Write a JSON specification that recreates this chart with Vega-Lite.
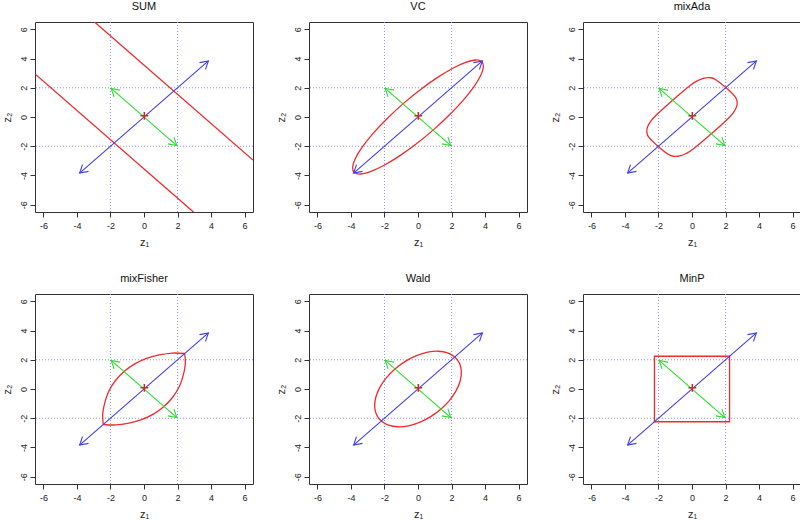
{
  "$schema": "https://vega.github.io/schema/vega-lite/v6.json",
  "padding": {"left": 0, "top": 0, "right": 0, "bottom": 0},
  "background": "white",
  "columns": 3,
  "spacing": {"row": 82, "column": 56},
  "bounds": "flush",
  "config": {
    "view": {"stroke": "#333333", "strokeWidth": 1},
    "axis": {"grid": false, "domain": false, "tickSize": 5, "tickColor": "#333333", "labelOverlap": false, "tickCount": 10, "labelFont": "Liberation Sans", "labelFontSize": 9, "labelColor": "#222222", "titleFont": "Liberation Sans", "titleFontSize": 11, "titleFontWeight": "normal", "titleColor": "#222222"},
    "axisX": {"labelPadding": 4, "titlePadding": 6},
    "axisY": {"labelAngle": -90, "labelAlign": "center", "labelBaseline": "bottom", "labelPadding": 2, "titlePadding": 7},
    "title": {"font": "Liberation Sans", "fontSize": 11, "fontWeight": "normal", "color": "#111111", "offset": 10}
  },
  "datasets": {
    "vgrid": [{"z1": -2}, {"z1": 2}],
    "hgrid": [{"z2": -2}, {"z2": 2}],
    "center": [{"z1": 0.02, "z2": 0.08}],
    "arrows": [
      {"vec": "major", "seg": "m0", "i": 0, "z1": -3.84, "z2": -3.84},
      {"vec": "major", "seg": "m0", "i": 1, "z1": 3.84, "z2": 3.84},
      {"vec": "major", "seg": "m1", "i": 0, "z1": 3.311, "z2": 3.721},
      {"vec": "major", "seg": "m1", "i": 1, "z1": 3.84, "z2": 3.84},
      {"vec": "major", "seg": "m1", "i": 2, "z1": 3.666, "z2": 3.257},
      {"vec": "major", "seg": "m2", "i": 0, "z1": -3.311, "z2": -3.721},
      {"vec": "major", "seg": "m2", "i": 1, "z1": -3.84, "z2": -3.84},
      {"vec": "major", "seg": "m2", "i": 2, "z1": -3.666, "z2": -3.257},
      {"vec": "minor", "seg": "n0", "i": 0, "z1": -1.96, "z2": 1.96},
      {"vec": "minor", "seg": "n0", "i": 1, "z1": 1.96, "z2": -1.96},
      {"vec": "minor", "seg": "n1", "i": 0, "z1": 1.786, "z2": -1.377},
      {"vec": "minor", "seg": "n1", "i": 1, "z1": 1.96, "z2": -1.96},
      {"vec": "minor", "seg": "n1", "i": 2, "z1": 1.431, "z2": -1.841},
      {"vec": "minor", "seg": "n2", "i": 0, "z1": -1.786, "z2": 1.377},
      {"vec": "minor", "seg": "n2", "i": 1, "z1": -1.96, "z2": 1.96},
      {"vec": "minor", "seg": "n2", "i": 2, "z1": -1.431, "z2": 1.841}
    ],
    "region": [
      {"panel": "SUM", "seg": "a", "i": 0, "z1": -2.95, "z2": 6.5},
      {"panel": "SUM", "seg": "a", "i": 1, "z1": 6.5, "z2": -2.95},
      {"panel": "SUM", "seg": "b", "i": 0, "z1": -6.5, "z2": 2.95},
      {"panel": "SUM", "seg": "b", "i": 1, "z1": 2.95, "z2": -6.5},

      {"panel": "VC", "seg": "a", "i": 0, "z1": 3.797, "z2": 3.797},
      {"panel": "VC", "seg": "a", "i": 1, "z1": 3.435, "z2": 3.9},
      {"panel": "VC", "seg": "a", "i": 2, "z1": 2.839, "z2": 3.737},
      {"panel": "VC", "seg": "a", "i": 3, "z1": 2.05, "z2": 3.32},
      {"panel": "VC", "seg": "a", "i": 4, "z1": 1.121, "z2": 2.676},
      {"panel": "VC", "seg": "a", "i": 5, "z1": 0.115, "z2": 1.85},
      {"panel": "VC", "seg": "a", "i": 6, "z1": -0.898, "z2": 0.898},
      {"panel": "VC", "seg": "a", "i": 7, "z1": -1.85, "z2": -0.115},
      {"panel": "VC", "seg": "a", "i": 8, "z1": -2.676, "z2": -1.121},
      {"panel": "VC", "seg": "a", "i": 9, "z1": -3.32, "z2": -2.05},
      {"panel": "VC", "seg": "a", "i": 10, "z1": -3.737, "z2": -2.839},
      {"panel": "VC", "seg": "a", "i": 11, "z1": -3.9, "z2": -3.435},
      {"panel": "VC", "seg": "a", "i": 12, "z1": -3.797, "z2": -3.797},
      {"panel": "VC", "seg": "a", "i": 13, "z1": -3.435, "z2": -3.9},
      {"panel": "VC", "seg": "a", "i": 14, "z1": -2.839, "z2": -3.737},
      {"panel": "VC", "seg": "a", "i": 15, "z1": -2.05, "z2": -3.32},
      {"panel": "VC", "seg": "a", "i": 16, "z1": -1.121, "z2": -2.676},
      {"panel": "VC", "seg": "a", "i": 17, "z1": -0.115, "z2": -1.85},
      {"panel": "VC", "seg": "a", "i": 18, "z1": 0.898, "z2": -0.898},
      {"panel": "VC", "seg": "a", "i": 19, "z1": 1.85, "z2": 0.115},
      {"panel": "VC", "seg": "a", "i": 20, "z1": 2.676, "z2": 1.121},
      {"panel": "VC", "seg": "a", "i": 21, "z1": 3.32, "z2": 2.05},
      {"panel": "VC", "seg": "a", "i": 22, "z1": 3.737, "z2": 2.839},
      {"panel": "VC", "seg": "a", "i": 23, "z1": 3.9, "z2": 3.435},

      {"panel": "mixAda", "seg": "a", "i": 0, "z1": 2.015, "z2": 2.015},
      {"panel": "mixAda", "seg": "a", "i": 1, "z1": 1.394, "z2": 2.567},
      {"panel": "mixAda", "seg": "a", "i": 2, "z1": 1.06, "z2": 2.69},
      {"panel": "mixAda", "seg": "a", "i": 3, "z1": 0.725, "z2": 2.664},
      {"panel": "mixAda", "seg": "a", "i": 4, "z1": 0.352, "z2": 2.497},
      {"panel": "mixAda", "seg": "a", "i": 5, "z1": -0.107, "z2": 2.158},
      {"panel": "mixAda", "seg": "a", "i": 6, "z1": -1.153, "z2": 1.153},
      {"panel": "mixAda", "seg": "a", "i": 7, "z1": -2.158, "z2": 0.107},
      {"panel": "mixAda", "seg": "a", "i": 8, "z1": -2.497, "z2": -0.352},
      {"panel": "mixAda", "seg": "a", "i": 9, "z1": -2.664, "z2": -0.725},
      {"panel": "mixAda", "seg": "a", "i": 10, "z1": -2.69, "z2": -1.06},
      {"panel": "mixAda", "seg": "a", "i": 11, "z1": -2.567, "z2": -1.394},
      {"panel": "mixAda", "seg": "a", "i": 12, "z1": -2.015, "z2": -2.015},
      {"panel": "mixAda", "seg": "a", "i": 13, "z1": -1.394, "z2": -2.567},
      {"panel": "mixAda", "seg": "a", "i": 14, "z1": -1.06, "z2": -2.69},
      {"panel": "mixAda", "seg": "a", "i": 15, "z1": -0.725, "z2": -2.664},
      {"panel": "mixAda", "seg": "a", "i": 16, "z1": -0.352, "z2": -2.497},
      {"panel": "mixAda", "seg": "a", "i": 17, "z1": 0.107, "z2": -2.158},
      {"panel": "mixAda", "seg": "a", "i": 18, "z1": 1.153, "z2": -1.153},
      {"panel": "mixAda", "seg": "a", "i": 19, "z1": 2.158, "z2": -0.107},
      {"panel": "mixAda", "seg": "a", "i": 20, "z1": 2.497, "z2": 0.352},
      {"panel": "mixAda", "seg": "a", "i": 21, "z1": 2.664, "z2": 0.725},
      {"panel": "mixAda", "seg": "a", "i": 22, "z1": 2.69, "z2": 1.06},
      {"panel": "mixAda", "seg": "a", "i": 23, "z1": 2.567, "z2": 1.394},

      {"panel": "mixFisher", "seg": "a", "i": 0, "z1": 2.43, "z2": 2.43},
      {"panel": "mixFisher", "seg": "a", "i": 1, "z1": 2.46, "z2": 1.68},
      {"panel": "mixFisher", "seg": "a", "i": 2, "z1": 2.33, "z2": 0.9},
      {"panel": "mixFisher", "seg": "a", "i": 3, "z1": 2.1, "z2": 0.15},
      {"panel": "mixFisher", "seg": "a", "i": 4, "z1": 1.7, "z2": -0.58},
      {"panel": "mixFisher", "seg": "a", "i": 5, "z1": 1.19, "z2": -1.19},
      {"panel": "mixFisher", "seg": "a", "i": 6, "z1": 0.58, "z2": -1.7},
      {"panel": "mixFisher", "seg": "a", "i": 7, "z1": -0.15, "z2": -2.1},
      {"panel": "mixFisher", "seg": "a", "i": 8, "z1": -0.9, "z2": -2.33},
      {"panel": "mixFisher", "seg": "a", "i": 9, "z1": -1.68, "z2": -2.46},
      {"panel": "mixFisher", "seg": "a", "i": 10, "z1": -2.43, "z2": -2.43},
      {"panel": "mixFisher", "seg": "b", "i": 0, "z1": -2.43, "z2": -2.43},
      {"panel": "mixFisher", "seg": "b", "i": 1, "z1": -2.46, "z2": -1.68},
      {"panel": "mixFisher", "seg": "b", "i": 2, "z1": -2.33, "z2": -0.9},
      {"panel": "mixFisher", "seg": "b", "i": 3, "z1": -2.1, "z2": -0.15},
      {"panel": "mixFisher", "seg": "b", "i": 4, "z1": -1.7, "z2": 0.58},
      {"panel": "mixFisher", "seg": "b", "i": 5, "z1": -1.19, "z2": 1.19},
      {"panel": "mixFisher", "seg": "b", "i": 6, "z1": -0.58, "z2": 1.7},
      {"panel": "mixFisher", "seg": "b", "i": 7, "z1": 0.15, "z2": 2.1},
      {"panel": "mixFisher", "seg": "b", "i": 8, "z1": 0.9, "z2": 2.33},
      {"panel": "mixFisher", "seg": "b", "i": 9, "z1": 1.68, "z2": 2.46},
      {"panel": "mixFisher", "seg": "b", "i": 10, "z1": 2.43, "z2": 2.43},

      {"panel": "Wald", "seg": "a", "i": 0, "z1": 2.192, "z2": 2.192},
      {"panel": "Wald", "seg": "a", "i": 1, "z1": 1.762, "z2": 2.472},
      {"panel": "Wald", "seg": "a", "i": 2, "z1": 1.213, "z2": 2.584},
      {"panel": "Wald", "seg": "a", "i": 3, "z1": 0.58, "z2": 2.52},
      {"panel": "Wald", "seg": "a", "i": 4, "z1": -0.092, "z2": 2.284},
      {"panel": "Wald", "seg": "a", "i": 5, "z1": -0.758, "z2": 1.892},
      {"panel": "Wald", "seg": "a", "i": 6, "z1": -1.372, "z2": 1.372},
      {"panel": "Wald", "seg": "a", "i": 7, "z1": -1.892, "z2": 0.758},
      {"panel": "Wald", "seg": "a", "i": 8, "z1": -2.284, "z2": 0.092},
      {"panel": "Wald", "seg": "a", "i": 9, "z1": -2.52, "z2": -0.58},
      {"panel": "Wald", "seg": "a", "i": 10, "z1": -2.584, "z2": -1.213},
      {"panel": "Wald", "seg": "a", "i": 11, "z1": -2.472, "z2": -1.762},
      {"panel": "Wald", "seg": "a", "i": 12, "z1": -2.192, "z2": -2.192},
      {"panel": "Wald", "seg": "a", "i": 13, "z1": -1.762, "z2": -2.472},
      {"panel": "Wald", "seg": "a", "i": 14, "z1": -1.213, "z2": -2.584},
      {"panel": "Wald", "seg": "a", "i": 15, "z1": -0.58, "z2": -2.52},
      {"panel": "Wald", "seg": "a", "i": 16, "z1": 0.092, "z2": -2.284},
      {"panel": "Wald", "seg": "a", "i": 17, "z1": 0.758, "z2": -1.892},
      {"panel": "Wald", "seg": "a", "i": 18, "z1": 1.372, "z2": -1.372},
      {"panel": "Wald", "seg": "a", "i": 19, "z1": 1.892, "z2": -0.758},
      {"panel": "Wald", "seg": "a", "i": 20, "z1": 2.284, "z2": -0.092},
      {"panel": "Wald", "seg": "a", "i": 21, "z1": 2.52, "z2": 0.58},
      {"panel": "Wald", "seg": "a", "i": 22, "z1": 2.584, "z2": 1.213},
      {"panel": "Wald", "seg": "a", "i": 23, "z1": 2.472, "z2": 1.762},

      {"panel": "MinP", "seg": "a", "i": 0, "z1": -2.24, "z2": -2.24},
      {"panel": "MinP", "seg": "a", "i": 1, "z1": 2.24, "z2": -2.24},
      {"panel": "MinP", "seg": "a", "i": 2, "z1": 2.24, "z2": 2.24},
      {"panel": "MinP", "seg": "a", "i": 3, "z1": -2.24, "z2": 2.24}
    ]
  },
  "concat": [
    {
      "title": "SUM", "width": 218, "height": 190,
      "layer": [
        {"data": {"name": "vgrid"}, "mark": {"type": "rule", "color": "#8f8fff", "strokeDash": [1, 2], "strokeWidth": 1}, "encoding": {"x": {"field": "z1", "type": "quantitative", "title": "z₁", "scale": {"domain": [-6.5, 6.5], "nice": false, "zero": false}, "axis": {"values": [-6, -4, -2, 0, 2, 4, 6], "tickCount": 10, "labelOverlap": false, "labelExpr": "datum.value < 0 ? '-' + abs(datum.value) : '' + datum.value"}}}},
        {"data": {"name": "hgrid"}, "mark": {"type": "rule", "color": "#8f8fff", "strokeDash": [1, 2], "strokeWidth": 1}, "encoding": {"y": {"field": "z2", "type": "quantitative", "title": "z₂", "scale": {"domain": [-6.5, 6.5], "nice": false, "zero": false}, "axis": {"values": [-6, -4, -2, 0, 2, 4, 6], "tickCount": 10, "labelOverlap": false, "labelExpr": "datum.value < 0 ? '-' + abs(datum.value) : '' + datum.value"}}}},
        {"data": {"name": "region"}, "transform": [{"filter": "datum.panel == 'SUM'"}], "mark": {"type": "line", "interpolate": "linear", "clip": true, "color": "#f22a2a", "strokeWidth": 1.3}, "encoding": {"x": {"field": "z1", "type": "quantitative", "title": "z₁"}, "y": {"field": "z2", "type": "quantitative", "title": "z₂"}, "detail": {"field": "seg"}, "order": {"field": "i", "type": "quantitative"}}},
        {"data": {"name": "arrows"}, "mark": {"type": "line", "strokeWidth": 1.1}, "encoding": {"x": {"field": "z1", "type": "quantitative", "title": "z₁"}, "y": {"field": "z2", "type": "quantitative", "title": "z₂"}, "detail": {"field": "seg"}, "order": {"field": "i", "type": "quantitative"}, "color": {"field": "vec", "type": "nominal", "scale": {"domain": ["major", "minor"], "range": ["#3d3df0", "#2ade2a"]}, "legend": null}}},
        {"data": {"name": "center"}, "mark": {"type": "point", "shape": "M-1,0L1,0M0,-1L0,1", "filled": false, "size": 60, "color": "#e02020", "strokeWidth": 1.5, "opacity": 1}, "encoding": {"x": {"field": "z1", "type": "quantitative", "title": "z₁"}, "y": {"field": "z2", "type": "quantitative", "title": "z₂"}}}
      ]
    },
    {
      "title": "VC", "width": 218, "height": 190,
      "layer": [
        {"data": {"name": "vgrid"}, "mark": {"type": "rule", "color": "#8f8fff", "strokeDash": [1, 2], "strokeWidth": 1}, "encoding": {"x": {"field": "z1", "type": "quantitative", "title": "z₁", "scale": {"domain": [-6.5, 6.5], "nice": false, "zero": false}, "axis": {"values": [-6, -4, -2, 0, 2, 4, 6], "tickCount": 10, "labelOverlap": false, "labelExpr": "datum.value < 0 ? '-' + abs(datum.value) : '' + datum.value"}}}},
        {"data": {"name": "hgrid"}, "mark": {"type": "rule", "color": "#8f8fff", "strokeDash": [1, 2], "strokeWidth": 1}, "encoding": {"y": {"field": "z2", "type": "quantitative", "title": "z₂", "scale": {"domain": [-6.5, 6.5], "nice": false, "zero": false}, "axis": {"values": [-6, -4, -2, 0, 2, 4, 6], "tickCount": 10, "labelOverlap": false, "labelExpr": "datum.value < 0 ? '-' + abs(datum.value) : '' + datum.value"}}}},
        {"data": {"name": "region"}, "transform": [{"filter": "datum.panel == 'VC'"}], "mark": {"type": "line", "interpolate": "cardinal-closed", "clip": true, "color": "#f22a2a", "strokeWidth": 1.3}, "encoding": {"x": {"field": "z1", "type": "quantitative", "title": "z₁"}, "y": {"field": "z2", "type": "quantitative", "title": "z₂"}, "detail": {"field": "seg"}, "order": {"field": "i", "type": "quantitative"}}},
        {"data": {"name": "arrows"}, "mark": {"type": "line", "strokeWidth": 1.1}, "encoding": {"x": {"field": "z1", "type": "quantitative", "title": "z₁"}, "y": {"field": "z2", "type": "quantitative", "title": "z₂"}, "detail": {"field": "seg"}, "order": {"field": "i", "type": "quantitative"}, "color": {"field": "vec", "type": "nominal", "scale": {"domain": ["major", "minor"], "range": ["#3d3df0", "#2ade2a"]}, "legend": null}}},
        {"data": {"name": "center"}, "mark": {"type": "point", "shape": "M-1,0L1,0M0,-1L0,1", "filled": false, "size": 60, "color": "#e02020", "strokeWidth": 1.5, "opacity": 1}, "encoding": {"x": {"field": "z1", "type": "quantitative", "title": "z₁"}, "y": {"field": "z2", "type": "quantitative", "title": "z₂"}}}
      ]
    },
    {
      "title": "mixAda", "width": 218, "height": 190,
      "layer": [
        {"data": {"name": "vgrid"}, "mark": {"type": "rule", "color": "#8f8fff", "strokeDash": [1, 2], "strokeWidth": 1}, "encoding": {"x": {"field": "z1", "type": "quantitative", "title": "z₁", "scale": {"domain": [-6.5, 6.5], "nice": false, "zero": false}, "axis": {"values": [-6, -4, -2, 0, 2, 4, 6], "tickCount": 10, "labelOverlap": false, "labelExpr": "datum.value < 0 ? '-' + abs(datum.value) : '' + datum.value"}}}},
        {"data": {"name": "hgrid"}, "mark": {"type": "rule", "color": "#8f8fff", "strokeDash": [1, 2], "strokeWidth": 1}, "encoding": {"y": {"field": "z2", "type": "quantitative", "title": "z₂", "scale": {"domain": [-6.5, 6.5], "nice": false, "zero": false}, "axis": {"values": [-6, -4, -2, 0, 2, 4, 6], "tickCount": 10, "labelOverlap": false, "labelExpr": "datum.value < 0 ? '-' + abs(datum.value) : '' + datum.value"}}}},
        {"data": {"name": "region"}, "transform": [{"filter": "datum.panel == 'mixAda'"}], "mark": {"type": "line", "interpolate": "cardinal-closed", "clip": true, "color": "#f22a2a", "strokeWidth": 1.3}, "encoding": {"x": {"field": "z1", "type": "quantitative", "title": "z₁"}, "y": {"field": "z2", "type": "quantitative", "title": "z₂"}, "detail": {"field": "seg"}, "order": {"field": "i", "type": "quantitative"}}},
        {"data": {"name": "arrows"}, "mark": {"type": "line", "strokeWidth": 1.1}, "encoding": {"x": {"field": "z1", "type": "quantitative", "title": "z₁"}, "y": {"field": "z2", "type": "quantitative", "title": "z₂"}, "detail": {"field": "seg"}, "order": {"field": "i", "type": "quantitative"}, "color": {"field": "vec", "type": "nominal", "scale": {"domain": ["major", "minor"], "range": ["#3d3df0", "#2ade2a"]}, "legend": null}}},
        {"data": {"name": "center"}, "mark": {"type": "point", "shape": "M-1,0L1,0M0,-1L0,1", "filled": false, "size": 60, "color": "#e02020", "strokeWidth": 1.5, "opacity": 1}, "encoding": {"x": {"field": "z1", "type": "quantitative", "title": "z₁"}, "y": {"field": "z2", "type": "quantitative", "title": "z₂"}}}
      ]
    },
    {
      "title": "mixFisher", "width": 218, "height": 190,
      "layer": [
        {"data": {"name": "vgrid"}, "mark": {"type": "rule", "color": "#8f8fff", "strokeDash": [1, 2], "strokeWidth": 1}, "encoding": {"x": {"field": "z1", "type": "quantitative", "title": "z₁", "scale": {"domain": [-6.5, 6.5], "nice": false, "zero": false}, "axis": {"values": [-6, -4, -2, 0, 2, 4, 6], "tickCount": 10, "labelOverlap": false, "labelExpr": "datum.value < 0 ? '-' + abs(datum.value) : '' + datum.value"}}}},
        {"data": {"name": "hgrid"}, "mark": {"type": "rule", "color": "#8f8fff", "strokeDash": [1, 2], "strokeWidth": 1}, "encoding": {"y": {"field": "z2", "type": "quantitative", "title": "z₂", "scale": {"domain": [-6.5, 6.5], "nice": false, "zero": false}, "axis": {"values": [-6, -4, -2, 0, 2, 4, 6], "tickCount": 10, "labelOverlap": false, "labelExpr": "datum.value < 0 ? '-' + abs(datum.value) : '' + datum.value"}}}},
        {"data": {"name": "region"}, "transform": [{"filter": "datum.panel == 'mixFisher'"}], "mark": {"type": "line", "interpolate": "cardinal", "clip": true, "color": "#f22a2a", "strokeWidth": 1.3}, "encoding": {"x": {"field": "z1", "type": "quantitative", "title": "z₁"}, "y": {"field": "z2", "type": "quantitative", "title": "z₂"}, "detail": {"field": "seg"}, "order": {"field": "i", "type": "quantitative"}}},
        {"data": {"name": "arrows"}, "mark": {"type": "line", "strokeWidth": 1.1}, "encoding": {"x": {"field": "z1", "type": "quantitative", "title": "z₁"}, "y": {"field": "z2", "type": "quantitative", "title": "z₂"}, "detail": {"field": "seg"}, "order": {"field": "i", "type": "quantitative"}, "color": {"field": "vec", "type": "nominal", "scale": {"domain": ["major", "minor"], "range": ["#3d3df0", "#2ade2a"]}, "legend": null}}},
        {"data": {"name": "center"}, "mark": {"type": "point", "shape": "M-1,0L1,0M0,-1L0,1", "filled": false, "size": 60, "color": "#e02020", "strokeWidth": 1.5, "opacity": 1}, "encoding": {"x": {"field": "z1", "type": "quantitative", "title": "z₁"}, "y": {"field": "z2", "type": "quantitative", "title": "z₂"}}}
      ]
    },
    {
      "title": "Wald", "width": 218, "height": 190,
      "layer": [
        {"data": {"name": "vgrid"}, "mark": {"type": "rule", "color": "#8f8fff", "strokeDash": [1, 2], "strokeWidth": 1}, "encoding": {"x": {"field": "z1", "type": "quantitative", "title": "z₁", "scale": {"domain": [-6.5, 6.5], "nice": false, "zero": false}, "axis": {"values": [-6, -4, -2, 0, 2, 4, 6], "tickCount": 10, "labelOverlap": false, "labelExpr": "datum.value < 0 ? '-' + abs(datum.value) : '' + datum.value"}}}},
        {"data": {"name": "hgrid"}, "mark": {"type": "rule", "color": "#8f8fff", "strokeDash": [1, 2], "strokeWidth": 1}, "encoding": {"y": {"field": "z2", "type": "quantitative", "title": "z₂", "scale": {"domain": [-6.5, 6.5], "nice": false, "zero": false}, "axis": {"values": [-6, -4, -2, 0, 2, 4, 6], "tickCount": 10, "labelOverlap": false, "labelExpr": "datum.value < 0 ? '-' + abs(datum.value) : '' + datum.value"}}}},
        {"data": {"name": "region"}, "transform": [{"filter": "datum.panel == 'Wald'"}], "mark": {"type": "line", "interpolate": "cardinal-closed", "clip": true, "color": "#f22a2a", "strokeWidth": 1.3}, "encoding": {"x": {"field": "z1", "type": "quantitative", "title": "z₁"}, "y": {"field": "z2", "type": "quantitative", "title": "z₂"}, "detail": {"field": "seg"}, "order": {"field": "i", "type": "quantitative"}}},
        {"data": {"name": "arrows"}, "mark": {"type": "line", "strokeWidth": 1.1}, "encoding": {"x": {"field": "z1", "type": "quantitative", "title": "z₁"}, "y": {"field": "z2", "type": "quantitative", "title": "z₂"}, "detail": {"field": "seg"}, "order": {"field": "i", "type": "quantitative"}, "color": {"field": "vec", "type": "nominal", "scale": {"domain": ["major", "minor"], "range": ["#3d3df0", "#2ade2a"]}, "legend": null}}},
        {"data": {"name": "center"}, "mark": {"type": "point", "shape": "M-1,0L1,0M0,-1L0,1", "filled": false, "size": 60, "color": "#e02020", "strokeWidth": 1.5, "opacity": 1}, "encoding": {"x": {"field": "z1", "type": "quantitative", "title": "z₁"}, "y": {"field": "z2", "type": "quantitative", "title": "z₂"}}}
      ]
    },
    {
      "title": "MinP", "width": 218, "height": 190,
      "layer": [
        {"data": {"name": "vgrid"}, "mark": {"type": "rule", "color": "#8f8fff", "strokeDash": [1, 2], "strokeWidth": 1}, "encoding": {"x": {"field": "z1", "type": "quantitative", "title": "z₁", "scale": {"domain": [-6.5, 6.5], "nice": false, "zero": false}, "axis": {"values": [-6, -4, -2, 0, 2, 4, 6], "tickCount": 10, "labelOverlap": false, "labelExpr": "datum.value < 0 ? '-' + abs(datum.value) : '' + datum.value"}}}},
        {"data": {"name": "hgrid"}, "mark": {"type": "rule", "color": "#8f8fff", "strokeDash": [1, 2], "strokeWidth": 1}, "encoding": {"y": {"field": "z2", "type": "quantitative", "title": "z₂", "scale": {"domain": [-6.5, 6.5], "nice": false, "zero": false}, "axis": {"values": [-6, -4, -2, 0, 2, 4, 6], "tickCount": 10, "labelOverlap": false, "labelExpr": "datum.value < 0 ? '-' + abs(datum.value) : '' + datum.value"}}}},
        {"data": {"name": "region"}, "transform": [{"filter": "datum.panel == 'MinP'"}], "mark": {"type": "line", "interpolate": "linear-closed", "clip": true, "color": "#f22a2a", "strokeWidth": 1.3}, "encoding": {"x": {"field": "z1", "type": "quantitative", "title": "z₁"}, "y": {"field": "z2", "type": "quantitative", "title": "z₂"}, "detail": {"field": "seg"}, "order": {"field": "i", "type": "quantitative"}}},
        {"data": {"name": "arrows"}, "mark": {"type": "line", "strokeWidth": 1.1}, "encoding": {"x": {"field": "z1", "type": "quantitative", "title": "z₁"}, "y": {"field": "z2", "type": "quantitative", "title": "z₂"}, "detail": {"field": "seg"}, "order": {"field": "i", "type": "quantitative"}, "color": {"field": "vec", "type": "nominal", "scale": {"domain": ["major", "minor"], "range": ["#3d3df0", "#2ade2a"]}, "legend": null}}},
        {"data": {"name": "center"}, "mark": {"type": "point", "shape": "M-1,0L1,0M0,-1L0,1", "filled": false, "size": 60, "color": "#e02020", "strokeWidth": 1.5, "opacity": 1}, "encoding": {"x": {"field": "z1", "type": "quantitative", "title": "z₁"}, "y": {"field": "z2", "type": "quantitative", "title": "z₂"}}}
      ]
    }
  ]
}
